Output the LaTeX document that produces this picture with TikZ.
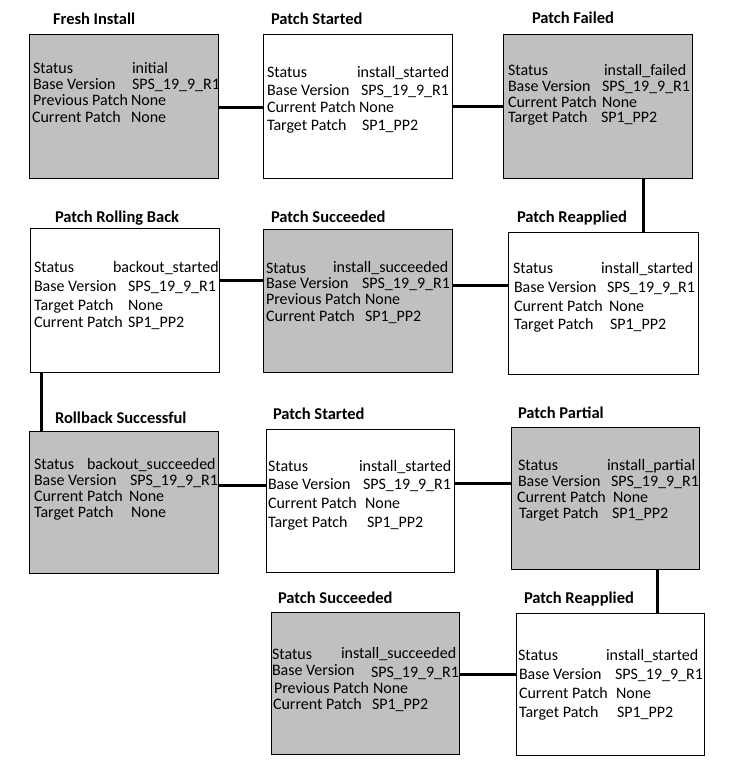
\documentclass[tikz,border=0pt]{standalone}
\usepackage{fontspec}
\setmainfont{Carlito}
\definecolor{boxgray}{HTML}{C0C0C0}
\newcommand\kvpair[5]{%
  \node[txt] (#1k) at (#2) {#3};
  \node[txt] (#1v) at (#4) {#5};}
\begin{document}
\begin{tikzpicture}[x=1pt,y=-1pt,
  box/.style={draw=black,line width=1pt,anchor=north west,inner sep=0pt,outer sep=0pt},
  grayb/.style={box,fill=boxgray},
  whiteb/.style={box,fill=white},
  txt/.style={anchor=base west,inner sep=0pt,outer sep=0pt,font=\fontsize{16}{16}\selectfont},
  ttl/.style={anchor=base west,inner sep=0pt,outer sep=0pt,font=\fontsize{16.5}{16.5}\selectfont\bfseries},
  link/.style={draw=black,line width=3pt}]
\useasboundingbox[fill=white] (0,0) rectangle (740,765);
% boxes
\node[grayb, minimum width=188.5pt, minimum height=143pt] (b1) at (29.5,35) {};
\node[whiteb,minimum width=189pt, minimum height=143pt] (b2) at (263,35) {};
\node[grayb, minimum width=189pt, minimum height=143pt] (b3) at (503,35) {};
\node[whiteb,minimum width=189pt, minimum height=144pt] (b4) at (30,228) {};
\node[grayb, minimum width=189pt, minimum height=143pt] (b5) at (263,229) {};
\node[whiteb,minimum width=190pt, minimum height=142pt] (b6) at (508,232) {};
\node[grayb, minimum width=189pt, minimum height=142pt] (b7) at (29,431) {};
\node[whiteb,minimum width=188pt, minimum height=143pt] (b8) at (266,429) {};
\node[grayb, minimum width=188pt, minimum height=142pt] (b9) at (511,427) {};
\node[grayb, minimum width=188pt, minimum height=142pt] (b10) at (271,612) {};
\node[whiteb,minimum width=188pt, minimum height=142pt] (b11) at (516,613) {};
% connector levels
\coordinate (c12) at (0,108);
\coordinate (c23) at (0,107);
\coordinate (c36) at (643,0);
\coordinate (c45) at (0,280);
\coordinate (c56) at (0,285);
\coordinate (c47) at (41,0);
\coordinate (c78) at (0,485);
\coordinate (c89) at (0,483);
\coordinate (c911) at (657,0);
\coordinate (c1011) at (0,674);
\draw[link] (b1.east |- c12) -- (b2.west |- c12);
\draw[link] (b2.east |- c23) -- (b3.west |- c23);
\draw[link] (b3.south -| c36) -- (b6.north -| c36);
\draw[link] (b4.east |- c45) -- (b5.west |- c45);
\draw[link] (b5.east |- c56) -- (b6.west |- c56);
\draw[link] (b4.south -| c47) -- (b7.north -| c47);
\draw[link] (b7.east |- c78) -- (b8.west |- c78);
\draw[link] (b8.east |- c89) -- (b9.west |- c89);
\draw[link] (b9.south -| c911) -- (b11.north -| c911);
\draw[link] (b10.east |- c1011) -- (b11.west |- c1011);
% titles
\node[ttl] (t1) at (53,25) {Fresh Install};
\node[ttl] (t2) at (271,25) {Patch Started};
\node[ttl] (t3) at (532,24) {Patch Failed};
\node[ttl] (t4) at (55,222) {Patch Rolling Back};
\node[ttl] (t5) at (271,222) {Patch Succeeded};
\node[ttl] (t6) at (517,222) {Patch Reapplied};
\node[ttl] (t7) at (55,423) {Rollback Successful};
\node[ttl] (t8) at (273,419) {Patch Started};
\node[ttl] (t9) at (518,418) {Patch Partial};
\node[ttl] (t10) at (278,603) {Patch Succeeded};
\node[ttl] (t11) at (524,603) {Patch Reapplied};
% box 1
\kvpair{a1}{33,74}{Status}{132,74}{initial}
\kvpair{a2}{33,90}{Base Version}{132,90}{SPS\_19\_9\_R1}
\kvpair{a3}{33,106}{Previous Patch}{131,106}{None}
\kvpair{a4}{32,122}{Current Patch}{131,122}{None}
% box 2
\kvpair{b1}{267,78}{Status}{357,78}{install\_started}
\kvpair{b2}{267,96}{Base Version}{361,96}{SPS\_19\_9\_R1}
\kvpair{b3}{267,113}{Current Patch}{359,113}{None}
\kvpair{b4}{267,131}{Target Patch}{362,131}{SP1\_PP2}
% box 3
\kvpair{c1}{508,76}{Status}{604,76}{install\_failed}
\kvpair{c2}{508,92}{Base Version}{602,92}{SPS\_19\_9\_R1}
\kvpair{c3}{508,107}{Current Patch}{602,107}{None}
\kvpair{c4}{508,122}{Target Patch}{601,122}{SP1\_PP2}
% box 4
\kvpair{d1}{34,272}{Status}{113,272}{backout\_started}
\kvpair{d2}{34,291}{Base Version}{128,291}{SPS\_19\_9\_R1}
\kvpair{d3}{34,310}{Target Patch}{128,310}{None}
\kvpair{d4}{34,327}{Current Patch}{128,327}{SP1\_PP2}
% box 5
\kvpair{e1}{266,273}{Status}{333,272}{install\_succeeded}
\kvpair{e2}{266,288}{Base Version}{362,288}{SPS\_19\_9\_R1}
\kvpair{e3}{266,304}{Previous Patch}{365,304}{None}
\kvpair{e4}{266,321}{Current Patch}{365,321}{SP1\_PP2}
% box 6
\kvpair{f1}{513,273}{Status}{601,273}{install\_started}
\kvpair{f2}{514,292}{Base Version}{607,292}{SPS\_19\_9\_R1}
\kvpair{f3}{514,311}{Current Patch}{609,311}{None}
\kvpair{f4}{514,329}{Target Patch}{610,329}{SP1\_PP2}
% box 7
\kvpair{g1}{34,469}{Status}{87,469}{backout\_succeeded}
\kvpair{g2}{34,485}{Base Version}{130,485}{SPS\_19\_9\_R1}
\kvpair{g3}{34,501}{Current Patch}{129,501}{None}
\kvpair{g4}{34,517}{Target Patch}{131,517}{None}
% box 8
\kvpair{h1}{268,471}{Status}{359,471}{install\_started}
\kvpair{h2}{268,489}{Base Version}{363,489}{SPS\_19\_9\_R1}
\kvpair{h3}{268,508}{Current Patch}{365,508}{None}
\kvpair{h4}{268,527}{Target Patch}{367,527}{SP1\_PP2}
% box 9
\kvpair{i1}{518,470}{Status}{607,470}{install\_partial}
\kvpair{i2}{518,486}{Base Version}{611,486}{SPS\_19\_9\_R1}
\kvpair{i3}{517,502}{Current Patch}{613,502}{None}
\kvpair{i4}{519,518}{Target Patch}{612,518}{SP1\_PP2}
% box 10
\kvpair{j1}{272,659}{Status}{341,658}{install\_succeeded}
\kvpair{j2}{272,675}{Base Version}{371,677}{SPS\_19\_9\_R1}
\kvpair{j3}{274,693}{Previous Patch}{373,693}{None}
\kvpair{j4}{273,709}{Current Patch}{372,709}{SP1\_PP2}
% box 11
\kvpair{k1}{518,660}{Status}{606,660}{install\_started}
\kvpair{k2}{519,679}{Base Version}{615,679}{SPS\_19\_9\_R1}
\kvpair{k3}{519,698}{Current Patch}{616,698}{None}
\kvpair{k4}{519,717}{Target Patch}{617,717}{SP1\_PP2}
\end{tikzpicture}
\end{document}
